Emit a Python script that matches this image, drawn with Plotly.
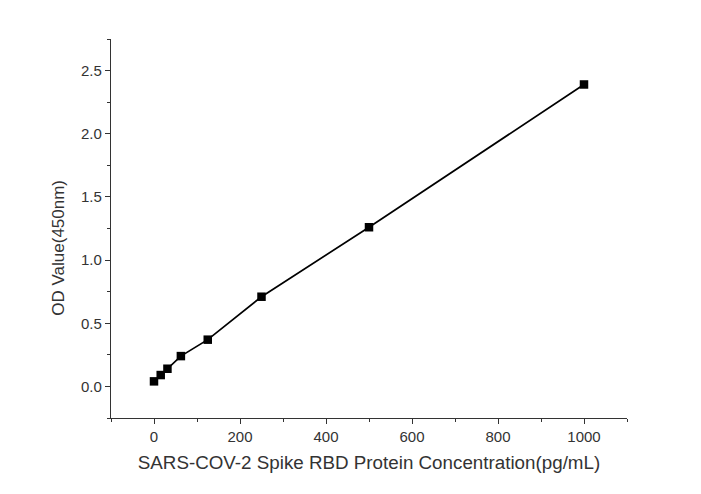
import plotly.graph_objects as go

# standard curve: concentration (pg/mL) vs OD at 450nm
conc = [0, 15.625, 31.25, 62.5, 125, 250, 500, 1000]
od = [0.04, 0.09, 0.14, 0.24, 0.37, 0.71, 1.26, 2.39]

fig = go.Figure(go.Scatter(
    x=conc,
    y=od,
    mode="lines+markers",
    line=dict(color="black", width=1.7),
    marker=dict(symbol="square", size=8.5, color="black"),
    showlegend=False,
))

axis_common = dict(
    showline=True,
    linecolor="#333333",
    linewidth=1.2,
    ticks="outside",
    ticklen=5,
    tickwidth=1.2,
    tickcolor="#333333",
    showgrid=False,
    zeroline=False,
    tickfont=dict(size=15, color="#333333", family="Arial"),
)

fig.update_xaxes(
    range=[-100, 1100],
    tick0=0,
    dtick=200,
    minor=dict(ticks="outside", ticklen=3, dtick=100, tick0=0, tickcolor="#333333"),
    title=dict(text="SARS-COV-2 Spike RBD Protein Concentration(pg/mL)",
               font=dict(size=18.8, color="#333333", family="Arial"), standoff=11),
    **axis_common,
)
fig.update_yaxes(
    range=[-0.25, 2.75],
    tick0=0,
    dtick=0.5,
    tickformat=".1f",
    minor=dict(ticks="outside", ticklen=3, dtick=0.25, tick0=0, tickcolor="#333333"),
    **axis_common,
)

# y title sits a bit below the axis centre in the original, so place it by hand
fig.add_annotation(
    text="OD Value(450nm)",
    xref="paper", yref="paper",
    x=-0.101, y=0.449,
    xanchor="center", yanchor="middle",
    textangle=-90,
    showarrow=False,
    font=dict(size=17, color="#333333", family="Arial"),
)

# page body adds ~8px offset, margins compensate for it
fig.update_layout(
    width=701,
    height=494,
    margin=dict(l=103, r=82, t=31, b=84),
    plot_bgcolor="white",
    paper_bgcolor="white",
)

fig.write_html("out.html")
